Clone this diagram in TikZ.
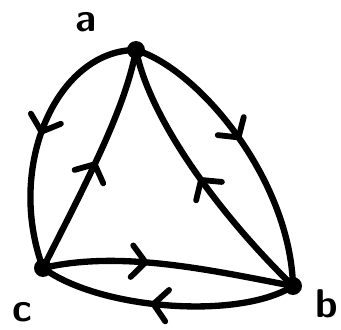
\documentclass[tikz,border=0pt]{standalone}
\usepackage{tikz}
\usetikzlibrary{arrows.meta, decorations.markings}

\begin{document}
\begin{tikzpicture}[
  x=0.0333cm, y=-0.0333cm,
  vtx/.style={circle, fill=black, inner sep=0pt, minimum size=17pt},
  vlabel/.style={font=\sffamily\bfseries\fontsize{38}{38}\selectfont, inner sep=0pt},
  edge/.style={line width=6pt, line cap=round, line join=round},
  chev/.style={postaction={decorate}, decoration={markings,
    mark=at position #1 with {\arrow{Straight Barb[length=13pt, width=30pt, line width=5.5pt, round]}}}},
]
\useasboundingbox (0,0) rectangle (341,330);

% ---------- VERTICES ----------
\node[vtx] (a) at (136,50) {};
\node[vtx] (b) at (293,286) {};
\node[vtx] (c) at (43,268) {};
\node[vlabel] (la) at (86,22) {a};
\node[vlabel] (lb) at (327,304) {b};
\node[vlabel] (lc) at (22,312) {c};

% ---------- OUTER EDGES ----------
\draw[edge, chev=0.5] (a.center) .. controls (58,50) and (5,165) .. (c.center);
\draw[edge, chev=0.47] (a.center) .. controls (200,70) and (290,180) .. (b.center);
\draw[edge, chev=0.56] (b.center) .. controls (240,320) and (100,310) .. (c.center);

% ---------- INNER EDGES ----------
\draw[edge, chev=0.5] (c.center) .. controls (85,185) and (125,110) .. (a.center);
\draw[edge, chev=0.5] (b.center) .. controls (220,215) and (150,120) .. (a.center);
\draw[edge, chev=0.42] (c.center) .. controls (120,250) and (210,270) .. (b.center);

\end{tikzpicture}
\end{document}
